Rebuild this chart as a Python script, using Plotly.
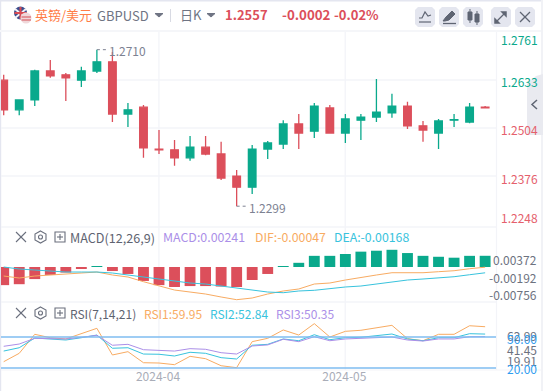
import plotly.graph_objects as go

W, H = 543, 391

# ---- data -----
indices = list(range(32))
opens = [1.2630,1.2552,1.2578,1.2654,1.2644,1.2630,1.2654,1.2678,1.2541,1.2559,1.2449,1.2447,1.2426,1.2454,1.2436,1.2378,1.2349,1.2449,
         1.2462,1.2515,1.2496,1.2557,1.2491,1.2525,1.2533,1.2544,1.2562,1.2510,1.2491,1.2525,1.2520,1.2559]
highs = [1.2644,1.2578,1.2657,1.2683,1.2649,1.2665,1.2710,1.2704,1.2570,1.2565,1.2499,1.2473,1.2483,1.2483,1.2468,1.2394,1.2460,1.2470,
         1.2525,1.2541,1.2570,1.2565,1.2541,1.2541,1.2633,1.2594,1.2573,1.2523,1.2528,1.2541,1.2570,1.2562]
lows = [1.2538,1.2538,1.2562,1.2636,1.2575,1.2612,1.2649,1.2520,1.2507,1.2426,1.2436,1.2405,1.2418,1.2433,1.2368,1.2299,1.2331,1.2423,
        1.2449,1.2449,1.2478,1.2491,1.2465,1.2473,1.2520,1.2531,1.2502,1.2468,1.2449,1.2507,1.2517,1.2557]
closes = [1.2552,1.2578,1.2654,1.2641,1.2636,1.2654,1.2678,1.2541,1.2552,1.2452,1.2447,1.2426,1.2454,1.2436,1.2373,1.2349,1.2449,1.2465,
          1.2515,1.2491,1.2562,1.2491,1.2528,1.2533,1.2546,1.2562,1.2510,1.2499,1.2523,1.2526,1.2559,1.2557]

macd_hist = [-0.0039,-0.0037,-0.0026,-0.0017,-0.0012,-0.00043,0.00015,-0.00087,-0.0015,-0.0030,-0.0039,-0.0043,-0.0041,-0.0041,-0.0042,-0.0043,
             -0.0028,-0.0015,0.0002,0.0009,0.0024,0.0024,0.0028,0.0033,0.0035,0.0037,0.0030,0.0024,0.0022,0.0020,0.0024,0.00241]
dif = [-0.00237,-0.00280,-0.00237,-0.00215,-0.00194,-0.00172,-0.00151,-0.00215,-0.00258,-0.00359,-0.00452,-0.00538,-0.00581,-0.00624,-0.00688,-0.00746,
       -0.00710,-0.00624,-0.00559,-0.00516,-0.00409,-0.00387,-0.00323,-0.00264,-0.00215,-0.00166,-0.00166,-0.00166,-0.00144,-0.00123,-0.00080,-0.00047]
dea = [-0.00043,-0.00086,-0.00108,-0.00129,-0.00151,-0.00151,-0.00151,-0.00172,-0.00215,-0.00258,-0.00301,-0.00344,-0.00387,-0.00409,-0.00452,-0.00495,
       -0.00538,-0.00581,-0.00596,-0.00559,-0.00544,-0.00501,-0.00473,-0.00452,-0.00409,-0.00359,-0.00323,-0.00301,-0.00280,-0.00252,-0.00209,-0.00168]

rsi1 = [26.1,34.2,52.6,49.3,48.1,52.9,58.4,32.6,35.8,25.1,24.8,23.2,31.3,29.0,22.2,20.3,45.5,48.7,
        56.8,51.9,62.9,50.0,55.5,56.5,58.7,61.3,48.4,46.4,52.6,52.6,60.9,59.95]
rsi2 = [36.4,39.6,49.0,48.1,47.1,49.3,51.9,39.1,39.6,33.5,33.3,31.6,35.2,34.2,30.0,28.7,42.0,42.9,
        48.1,46.4,52.2,47.4,49.3,49.7,51.3,52.9,48.1,46.4,49.3,49.3,53.2,52.84]
rsi3 = [41.0,43.2,48.7,48.7,48.1,49.7,51.6,42.0,42.9,37.7,37.4,36.4,38.7,38.1,34.8,33.5,41.3,42.3,
        47.8,45.5,50.3,46.4,48.1,48.7,49.3,50.0,47.1,46.1,48.1,48.1,50.3,50.35]

month_ticks = [10, 22]
month_labels = ["2024-04", "2024-05"]
price_ticks = [("1.2761", 39), ("1.2633", 81), ("1.2504", 130), ("1.2376", 178), ("1.2248", 217)]
macd_ticks = [("0.00372", 259), ("-0.00192", 277), ("-0.00756", 294)]
rsi_grey = [("62.99", 335), ("41.45", 349), ("19.91", 360)]
rsi_blue = [("50.00", 338), ("20.00", 368)]
high_label = "1.2710"
low_label = "1.2299"

# ---- style ----
GREEN, RED = "#0aa98c", "#dc4f5b"
ORANGE, CYAN, PURPLE = "#f8ab62", "#38c3dd", "#ab8fe8"
GRID = "#f3f4f8"
ICON = "#5f6573"
FONT = "Noto Sans CJK SC, Noto Sans, sans-serif"

def fx(p): return p / W
def fy(p): return 1 - p / H

def P(*pts, close=False):
    s = ""
    for i, (a, b) in enumerate(pts):
        s += ("M" if i == 0 else "L") + f"{fx(a):.5f},{fy(b):.5f} "
    return s + ("Z" if close else "")

shapes, ann = [], []
def line_px(x0, y0, x1, y1, color, w=1, dash=None, layer="below"):
    shapes.append(dict(type="line", xref="paper", yref="paper", x0=fx(x0), x1=fx(x1), y0=fy(y0), y1=fy(y1),
                       line=dict(color=color, width=w, dash=dash or "solid"), layer=layer))
def rect_px(x0, y0, x1, y1, color):
    shapes.append(dict(type="rect", xref="paper", yref="paper", x0=fx(x0), x1=fx(x1), y0=fy(y0), y1=fy(y1),
                       fillcolor=color, line=dict(width=0), layer="below"))
def path_px(pts, color, w=1.2, fill=None, close=False):
    shapes.append(dict(type="path", xref="paper", yref="paper", path=P(*pts, close=close),
                       fillcolor=fill if fill else "rgba(0,0,0,0)", line=dict(color=color, width=w), layer="above"))
def circ_px(cx, cy, r, fill, lc=None, w=0):
    shapes.append(dict(type="circle", xref="paper", yref="paper", x0=fx(cx-r), x1=fx(cx+r), y0=fy(cy-r), y1=fy(cy+r),
                       fillcolor=fill, line=dict(color=lc or fill, width=w), layer="above"))
def text_px(x, y, t, color, size=12, anchor="left", bold=False):
    ann.append(dict(xref="paper", yref="paper", x=fx(x), y=fy(y), text=f"<b>{t}</b>" if bold else t, showarrow=False,
                    xanchor=anchor, yanchor="middle", font=dict(color=color, size=size, family=FONT), xshift=0, yshift=0,
                    borderpad=0, borderwidth=0))

# frame
rect_px(0, 0, 543, 1.5, "#e4e6f0")
rect_px(0, 0, 1.2, 391, "#e4e6f0")
rect_px(0, 30, 541, 32, "#f5f6f9")
rect_px(541, 0, 543, 391, "#f1f2f6")

# grid
for yy in (80, 128, 176, 227, 302):
    line_px(1, yy, 496, yy, GRID, 1.3)
line_px(496.5, 32, 496.5, 370, GRID, 1.2)
line_px(1, 370, 541, 370, GRID, 1)
for xx in (158.9, 345.2):
    line_px(xx, 32, xx, 370, GRID, 1.3)

# right tab
path_px([(543, 74), (536, 76), (527, 84), (527, 135), (543, 135)], "#e9eaf0", 0, fill="#e9eaf0", close=True)
path_px([(537, 100), (532, 104.5), (537, 109)], "#5f6573", 1.5)

# header
circ_px(20.5, 13, 6.5, "#3d4f8f")
path_px([(15, 9), (26, 18)], "#f2f2f6", 2)
path_px([(15, 18), (26, 9)], "#f2f2f6", 2)
path_px([(20.5, 7), (20.5, 19)], "#d84a52", 2)
path_px([(14.5, 13), (27, 13)], "#d84a52", 2)
circ_px(26, 18, 5.5, "#f0d8da")
path_px([(21.5, 17), (31, 17)], "#d9636a", 1.2)
path_px([(21.5, 20), (31, 20)], "#d9636a", 1.2)
text_px(35, 14.5, "英镑/美元", "#ff7d47", 13)
text_px(97, 15.5, "GBPUSD", "#6f7483", 13)
path_px([(155, 13.5), (159, 17), (163, 13.5)], "#6f7483", 1, fill="#6f7483", close=True)
line_px(170.5, 9, 170.5, 22, "#d8dae3", 1, layer="above")
text_px(180, 14.5, "日K", "#6f7483", 13)
path_px([(207, 13.5), (211, 17), (215, 13.5)], "#6f7483", 1, fill="#6f7483", close=True)
text_px(225, 14.5, "1.2557", RED, 13, bold=True)
text_px(281.5, 14.5, "-0.0002", RED, 13.3, bold=True)
text_px(334, 14.5, "-0.02%", RED, 13, bold=True)

for x0 in (415, 439, 463, 491, 515):
    shapes.append(dict(type="path", xref="paper", yref="paper", layer="below", fillcolor="#e4e6ef", line=dict(width=0),
                       path=P((x0+3, 7), (x0+17, 7), (x0+20, 10), (x0+20, 24), (x0+17, 27), (x0+3, 27), (x0, 24), (x0, 10), close=True)))
path_px([(419, 18), (422, 18), (425, 12), (428, 16), (431, 15)], ICON, 1.2)
path_px([(419, 22), (431, 22)], ICON, 1.2)
path_px([(443, 21), (446, 17), (452, 11), (455, 14), (449, 20), (445, 21)], ICON, 1, fill=ICON, close=True)
path_px([(443, 23.5), (456, 23.5)], ICON, 1.3)
rect_candles = [(468, 12, 472, 20), (475, 14, 479, 22)]
for a, b, c, d in rect_candles:
    path_px([(a, b), (c, b), (c, d), (a, d)], ICON, 1, fill=ICON, close=True)
path_px([(470, 9), (470, 23)], ICON, 1)
path_px([(477, 11), (477, 25)], ICON, 1)
path_px([(496, 22), (505, 13)], ICON, 1.2)
path_px([(502, 12), (506, 12), (506, 16)], ICON, 1.5, fill=ICON, close=True)
path_px([(495, 19), (495, 23), (499, 23)], ICON, 1.5, fill=ICON, close=True)
path_px([(520, 12), (530, 22)], ICON, 1.3)
path_px([(530, 12), (520, 22)], ICON, 1.3)

# panel controls
def controls(yc):
    path_px([(16, yc-5), (26, yc+5)], "#6a6f7d", 1.1)
    path_px([(26, yc-5), (16, yc+5)], "#6a6f7d", 1.1)
    path_px([(40.5, yc-6), (46, yc-3), (46, yc+3), (40.5, yc+6), (35, yc+3), (35, yc-3)], "#6a6f7d", 1.1, close=True)
    circ_px(40.5, yc, 2, "rgba(0,0,0,0)", "#6a6f7d", 1.1)
    path_px([(55, yc-5), (65, yc-5), (65, yc+5), (55, yc+5)], "#6a6f7d", 1.1, close=True)
    path_px([(60, yc-3), (60, yc+3)], "#6a6f7d", 1.1)
    path_px([(57, yc), (63, yc)], "#6a6f7d", 1.1)
controls(237)
controls(313)
text_px(70, 237, "MACD(12,26,9)", "#5e6370", 12.6)
text_px(163, 237, "MACD:0.00241", PURPLE, 12.4)
text_px(255, 237, "DIF:-0.00047", ORANGE, 12.3)
text_px(334, 237, "DEA:-0.00168", CYAN, 12.3)
text_px(70, 313, "RSI(7,14,21)", "#5e6370", 12)
text_px(144, 313, "RSI1:59.95", ORANGE, 12)
text_px(210, 313, "RSI2:52.84", CYAN, 12)
text_px(276, 313, "RSI3:50.35", PURPLE, 12)

# axis labels
for t, y in price_ticks:
    text_px(500.5, y, t, GREEN if float(t) > 1.2557 else "#e5606c", 12)
for t, y in macd_ticks:
    text_px(537, y, t, "#6d7280", 12, anchor="right")
for t, y in rsi_grey:
    text_px(537, y, t, "#6d7280", 12, anchor="right")
for t, y in rsi_blue:
    text_px(537, y, t, "#2f9df0", 12, anchor="right")

# RSI reference lines
for lvl in (50, 20):
    shapes.append(dict(type="line", xref="x3", yref="y3", x0=-0.174, x1=31.7, y0=lvl, y1=lvl,
                       line=dict(color="#7fbdf0", width=1.6), layer="above"))

# high / low callouts
hi_i, lo_i = highs.index(max(highs)), lows.index(min(lows))
for i, v, t in ((hi_i, highs[hi_i], high_label), (lo_i, lows[lo_i], low_label)):
    shapes.append(dict(type="line", xref="x", yref="y", x0=i, x1=i + 0.65, y0=v, y1=v,
                       line=dict(color="#7d8292", width=1, dash="dot"), layer="above"))
    ann.append(dict(xref="x", yref="y", x=i + 0.66, y=v, text=t, showarrow=False, xanchor="left", yanchor="middle",
                    yshift=-1, font=dict(color="#7d8292", size=12, family=FONT)))

fig = go.Figure()
fig.add_trace(go.Candlestick(x=indices, open=opens, high=highs, low=lows, close=closes, xaxis="x", yaxis="y",
                             whiskerwidth=0,
                             increasing=dict(line=dict(color=GREEN, width=1.3), fillcolor=GREEN),
                             decreasing=dict(line=dict(color=RED, width=1.3), fillcolor=RED),
                             showlegend=False, hoverinfo="skip"))
fig.add_trace(go.Bar(x=indices, y=macd_hist, width=0.7, xaxis="x2", yaxis="y2", showlegend=False,
                     marker=dict(color=[GREEN if v > 0 else RED for v in macd_hist], line=dict(width=0)), hoverinfo="skip"))
fig.add_trace(go.Scatter(x=indices, y=dif, mode="lines", xaxis="x2", yaxis="y4", showlegend=False,
                         line=dict(color=ORANGE, width=1), hoverinfo="skip"))
fig.add_trace(go.Scatter(x=indices, y=dea, mode="lines", xaxis="x2", yaxis="y4", showlegend=False,
                         line=dict(color=CYAN, width=1), hoverinfo="skip"))
for s, c in ((rsi1, ORANGE), (rsi2, CYAN), (rsi3, PURPLE)):
    fig.add_trace(go.Scatter(x=indices, y=s, mode="lines", xaxis="x3", yaxis="y3", showlegend=False,
                             line=dict(color=c, width=1), hoverinfo="skip"))

xr = [-0.174, 31.7]
xdom = [1 / W, 496 / W]
off = dict(showgrid=False, zeroline=False, showticklabels=False, ticks="", showline=False)
fig.update_layout(
    width=W, height=H, margin=dict(l=0, r=0, t=0, b=0), autosize=False,
    paper_bgcolor="white", plot_bgcolor="rgba(0,0,0,0)", showlegend=False,
    barmode="overlay", font=dict(family=FONT),
    shapes=shapes, annotations=ann,
    xaxis=dict(domain=xdom, range=xr, anchor="y", rangeslider=dict(visible=False), **off),
    xaxis2=dict(domain=xdom, range=xr, anchor="y2", **off),
    xaxis3=dict(domain=xdom, range=xr, anchor="y3", showgrid=False, zeroline=False, showline=False, ticks="",
                tickmode="array", tickvals=month_ticks, ticktext=month_labels, ticklabelstandoff=-2, ticklabelshift=-1,
                tickfont=dict(color="#a9adb8", size=12, family=FONT)),
    yaxis=dict(domain=[1 - 227 / H, 1 - 32 / H], range=[1.2633 - (227 - 79) / 3808, 1.2633 + (79 - 32) / 3808], **off),
    yaxis2=dict(domain=[1 - 302 / H, 1 - 228 / H], range=[-35 / 4650, 39 / 4650], **off),
    yaxis4=dict(domain=[1 - 302 / H, 1 - 228 / H], range=[-37 / 4650, 37 / 4650], overlaying="y2", **off),
    yaxis3=dict(domain=[1 - 370 / H, 1 - 302 / H], range=[50 - 33 / 1.033, 50 + 35 / 1.033], **off),
)
fig.write_html("out.html", config=dict(displayModeBar=False),
               post_script="document.body.style.margin='0';document.body.style.overflow='hidden';")
